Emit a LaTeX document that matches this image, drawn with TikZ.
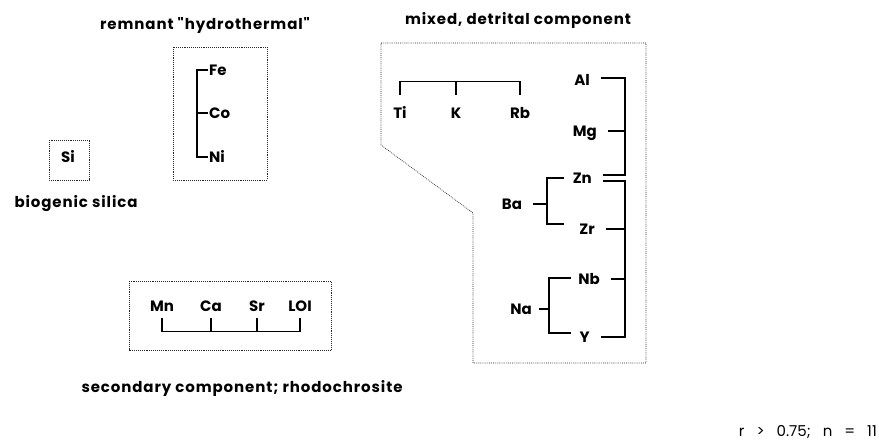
\documentclass[tikz,border=0pt]{standalone}
\usepackage{fontspec}
\setmainfont{Poppins}
\newfontfamily\titlefont{Poppins}[LetterSpace=6]
\begin{document}
\begin{tikzpicture}[x=1pt,y=-1pt,
  lbl/.style={font=\titlefont\fontsize{15}{17}\selectfont\bfseries, inner sep=1pt},
  el/.style={font=\fontsize{15}{17}\selectfont\bfseries, inner sep=1pt, text height=11pt, text depth=0pt},
  br/.style={line width=1.2pt, line cap=rect},
  dbox/.style={line width=0.7pt, black!85, dash pattern=on 0.8pt off 1.1pt}]
\useasboundingbox (0,0) rectangle (879,442);

% titles
\node[lbl] (t1) at (205,25) {remnant "hydrothermal"};
\node[lbl] (t2) at (518,20) {mixed, detrital component};
\node[lbl] (t3) at (76,204) {biogenic silica};
\node[lbl] (t4) at (242,388) {secondary component; rhodochrosite};
\node[inner sep=1pt, font=\fontsize{15}{17}\selectfont, anchor=east] (t5) at (878,432)
  {r\hspace{12pt}>\hspace{12pt}0.75;\hspace{12pt}n\hspace{12pt}=\hspace{12pt}11};

% boxes
\draw[dbox] (49,140) rectangle (89,180);
\draw[dbox] (173,47) rectangle (267,180);
\draw[dbox] (381,43) -- (646,43) -- (646,363) -- (473,363) -- (473,213) -- (381,145) -- cycle;
\draw[dbox] (129,281) rectangle (331,350);

% Si
\node[el] (Si) at (68,157) {Si};

% Fe Co Ni
\node[el, anchor=west] (Fe) at (208,70) {Fe};
\node[el, anchor=west] (Co) at (208,113) {Co};
\node[el, anchor=west] (Ni) at (208,157) {Ni};
\coordinate (fsp) at (197,0);
\draw[br] ([xshift=-1pt]Fe.west) -| (fsp |- Ni.west) -- ([xshift=-1pt]Ni.west);
\draw[br] ([xshift=-1pt]Co.west) -- (Co.west -| fsp);

% Ti K Rb
\node[el] (Ti) at (400,113) {Ti};
\node[el] (K) at (456,113) {K};
\node[el] (Rb) at (520,113) {Rb};
\draw[br] ([yshift=11.5pt]Ti.north) -- ([yshift=24.5pt]Ti.north) -| ([yshift=11.5pt]Rb.north);
\draw[br] ([yshift=24.5pt]K.north) -- ([yshift=11.5pt]K.north);

% right group
\node[el, anchor=east] (Al) at (591,80) {Al};
\node[el, anchor=east] (Mg) at (598,131) {Mg};
\node[el, anchor=east] (Zn) at (593,178) {Zn};
\node[el, anchor=east] (Zr) at (596,229) {Zr};
\node[el, anchor=east] (Nb) at (601,279) {Nb};
\node[el, anchor=east] (Y)  at (591,337) {Y};
\coordinate (rsp) at (625,0);
\draw[br] ([xshift=11pt,yshift=2pt]Al.east) -| ([yshift=3pt]Zn.east -| rsp) -- ([xshift=11pt,yshift=3pt]Zn.east);
\draw[br] ([xshift=11pt]Mg.east) -- (Mg.east -| rsp);
\draw[br] ([xshift=11pt,yshift=-3pt]Zn.east) -| (Y.east -| rsp) -- ([xshift=11pt]Y.east);
\draw[br] ([xshift=11pt]Zr.east) -- (Zr.east -| rsp);
\draw[br] ([xshift=11pt]Nb.east) -- (Nb.east -| rsp);

% Ba bracket
\node[el] (Ba) at (512,204) {Ba};
\coordinate (bz1) at (563,178);
\coordinate (bz2) at (563,224);
\coordinate (bsp) at (547,0);
\draw[br] (bz1) -| (bsp |- bz2) -- (bz2);
\draw[br] ([xshift=10pt]Ba.east) -- (Ba.east -| bsp);

% Na bracket
\node[el] (Na) at (521,309) {Na};
\coordinate (nb1) at (570,278);
\coordinate (nb2) at (570,333);
\coordinate (nsp) at (549,0);
\draw[br] (nb1) -| (nsp |- nb2) -- (nb2);
\draw[br] ([xshift=7pt]Na.east) -- (Na.east -| nsp);

% Mn Ca Sr LOI
\node[el] (Mn) at (162,306) {Mn};
\node[el] (Ca) at (211,306) {Ca};
\node[el] (Sr) at (257,306) {Sr};
\node[el] (LOI) at (300,306) {LOI};
\draw[br] ([yshift=-5.5pt]Mn.south) -- ([yshift=-18.5pt]Mn.south) -| ([yshift=-5.5pt]LOI.south);
\draw[br] ([yshift=-5.5pt]Ca.south) -- ([yshift=-18.5pt]Ca.south);
\draw[br] ([yshift=-5.5pt]Sr.south) -- ([yshift=-18.5pt]Sr.south);
\end{tikzpicture}
\end{document}
